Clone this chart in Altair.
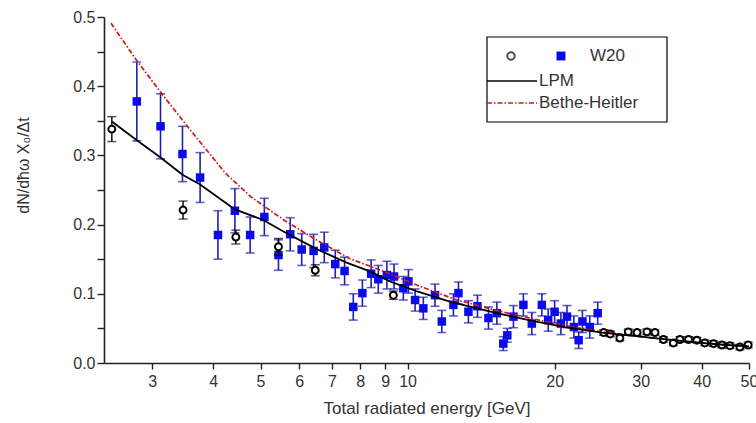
import altair as alt
import pandas as pd

# ---- data ----
circ_x = [2.48, 3.47, 4.45, 5.44, 6.47, 9.35, 25.2, 26.0, 27.2, 28.3, 29.5, 30.9,
          32.1, 33.4, 35.0, 36.1, 37.6, 39.1, 40.6, 42.3, 44.0, 45.7, 47.9, 49.8]
circ_y = [0.338, 0.221, 0.182, 0.168, 0.134, 0.098, 0.044, 0.042, 0.036, 0.045, 0.044, 0.045,
          0.044, 0.034, 0.029, 0.034, 0.034, 0.033, 0.029, 0.028, 0.026, 0.025, 0.023, 0.026]
circ_err = [0.018, 0.013, 0.010, 0.012, 0.008, 0.006, 0.004, 0.004, 0.004, 0.004, 0.004, 0.004,
            0.004, 0.004, 0.004, 0.004, 0.004, 0.004, 0.004, 0.004, 0.004, 0.004, 0.004, 0.004]

sq_x = [2.79, 3.12, 3.46, 3.76, 4.09, 4.43, 4.76, 5.09, 5.44, 5.75, 6.07, 6.42, 6.75, 7.11,
        7.43, 7.74, 8.08, 8.42, 8.71, 9.07, 9.38, 9.80, 10.04, 10.36, 10.77, 11.38, 11.75,
        12.41, 12.71, 13.32, 13.9, 14.64, 15.23, 15.7, 16.0, 16.47, 17.26, 17.96, 18.83,
        19.4, 20.0, 20.6, 21.2, 21.9, 22.4, 22.8, 23.6, 24.5]
sq_y = [0.378, 0.342, 0.302, 0.268, 0.185, 0.220, 0.185, 0.211, 0.156, 0.186, 0.164, 0.162,
        0.167, 0.143, 0.133, 0.081, 0.101, 0.129, 0.121, 0.127, 0.125, 0.108, 0.118, 0.091,
        0.079, 0.098, 0.060, 0.084, 0.101, 0.074, 0.082, 0.065, 0.072, 0.028, 0.040, 0.067,
        0.084, 0.057, 0.084, 0.062, 0.074, 0.057, 0.067, 0.052, 0.033, 0.060, 0.052, 0.072]
sq_err = [0.057, 0.047, 0.040, 0.036, 0.035, 0.032, 0.026, 0.027, 0.022, 0.024, 0.023, 0.024,
          0.022, 0.020, 0.020, 0.019, 0.019, 0.020, 0.020, 0.020, 0.018, 0.017, 0.017, 0.016,
          0.016, 0.016, 0.016, 0.016, 0.016, 0.016, 0.016, 0.016, 0.016, 0.010, 0.010, 0.016,
          0.016, 0.016, 0.016, 0.016, 0.016, 0.016, 0.016, 0.016, 0.012, 0.016, 0.016, 0.016]

lpm_x = [2.48, 2.79, 3.12, 3.46, 3.76, 4.43, 5.05, 5.57, 6.5, 7.5, 8.4, 9.2, 10.5, 12.3,
         15, 18, 21, 25, 30, 35, 40, 45, 50]
lpm_y = [0.349, 0.322, 0.297, 0.272, 0.258, 0.222, 0.207, 0.190, 0.165, 0.145, 0.132, 0.118,
         0.103, 0.088, 0.073, 0.061, 0.052, 0.044, 0.038, 0.033, 0.029, 0.026, 0.024]

bh_x = [2.47, 2.77, 3.1, 3.55, 4.24, 4.78, 5.57, 6.5, 7.6, 8.97, 10.5, 12.5, 15, 18, 21,
        25, 30, 35, 40, 45, 50]
bh_y = [0.491, 0.440, 0.394, 0.341, 0.274, 0.240, 0.207, 0.178, 0.151, 0.132, 0.112, 0.092,
        0.077, 0.064, 0.054, 0.045, 0.038, 0.033, 0.029, 0.026, 0.024]

x_ticks = [3, 4, 5, 6, 7, 8, 9, 10, 20, 30, 40, 50]
y_ticks = [0.0, 0.05, 0.1, 0.15, 0.2, 0.25, 0.3, 0.35, 0.4, 0.45, 0.5]

FONT = "Liberation Sans"

circ = pd.DataFrame({"E": circ_x, "v": circ_y,
                     "lo": [a - b for a, b in zip(circ_y, circ_err)],
                     "hi": [a + b for a, b in zip(circ_y, circ_err)]})
sq = pd.DataFrame({"E": sq_x, "v": sq_y,
                   "lo": [a - b for a, b in zip(sq_y, sq_err)],
                   "hi": [a + b for a, b in zip(sq_y, sq_err)]})
lpm = pd.DataFrame({"E": lpm_x, "v": lpm_y})
bh = pd.DataFrame({"E": bh_x, "v": bh_y})

xs = alt.Scale(type="log", domain=[2.39, 50], nice=False)
ys = alt.Scale(domain=[0, 0.5], nice=False, zero=False)

xax = alt.Axis(values=x_ticks, format="d", title="Total radiated energy [GeV]",
               grid=False, tickSize=6, labelPadding=4, titlePadding=11,
               labelFont=FONT, labelFontSize=16, labelColor="#333",
               titleFont=FONT, titleFontSize=17, titleFontWeight="normal", titleColor="#333",
               domainColor="#222", tickColor="#222", domainWidth=1.6, tickWidth=1.4,
               labelFlush=False)
yax = alt.Axis(values=y_ticks, title="dN/dħω X₀/Δt", grid=False, tickSize=7,
               labelExpr="datum.value % 0.1 < 0.001 || datum.value % 0.1 > 0.099 ? format(datum.value, '.1f') : ''",
               labelPadding=2, labelFont=FONT, labelFontSize=16, labelColor="#333",
               titleFont=FONT, titleFontSize=16, titleFontWeight="normal", titleColor="#333",
               titleX=-81, titleY=148, titleAngle=-90, titleAlign="center", titleBaseline="middle",
               domainColor="#222", tickColor="#222", domainWidth=1.6, tickWidth=1.4)

X = alt.X("E:Q", scale=xs, axis=xax)
Y = alt.Y("v:Q", scale=ys, axis=yax)

lpm_line = alt.Chart(lpm).mark_line(color="black", strokeWidth=1.8).encode(x=X, y=Y)
bh_line = alt.Chart(bh).mark_line(color="#d01818", strokeWidth=1.7,
                                  strokeDash=[5, 2, 1.5, 2]).encode(x=X, y=Y)

sq_bar = alt.Chart(sq).mark_rule(color="#2020b0", strokeWidth=1.6).encode(
    x=X, y=alt.Y("lo:Q", scale=ys, axis=yax), y2="hi:Q")
sq_cap_hi = alt.Chart(sq).mark_tick(color="#2020b0", orient="horizontal", size=9,
                                    thickness=1.6).encode(x=X, y=alt.Y("hi:Q", scale=ys, axis=yax))
sq_cap_lo = alt.Chart(sq).mark_tick(color="#2020b0", orient="horizontal", size=9,
                                    thickness=1.6).encode(x=X, y=alt.Y("lo:Q", scale=ys, axis=yax))
sq_pts = alt.Chart(sq).mark_point(shape="square", filled=True, color="#0a0aee",
                                  size=72, opacity=1).encode(x=X, y=Y)

c_bar = alt.Chart(circ).mark_rule(color="black", strokeWidth=1.4).encode(
    x=X, y=alt.Y("lo:Q", scale=ys, axis=yax), y2="hi:Q")
c_cap_hi = alt.Chart(circ).mark_tick(color="black", orient="horizontal", size=9,
                                     thickness=1.4).encode(x=X, y=alt.Y("hi:Q", scale=ys, axis=yax))
c_cap_lo = alt.Chart(circ).mark_tick(color="black", orient="horizontal", size=9,
                                     thickness=1.4).encode(x=X, y=alt.Y("lo:Q", scale=ys, axis=yax))
c_pts = alt.Chart(circ).mark_point(shape="circle", filled=False, fill="white", fillOpacity=1,
                                   stroke="black", strokeWidth=2, size=48,
                                   opacity=1).encode(x=X, y=Y)

# ---- hand-made legend box (layout only) ----
one = alt.Data(values=[{}])
leg_box = alt.Chart(one).mark_rect(fill="white", stroke="black", strokeWidth=1.2).encode(
    x=alt.value(383), x2=alt.value(563), y=alt.value(20), y2=alt.value(105))
leg_c = alt.Chart(one).mark_point(shape="circle", filled=False, stroke="black",
                                  strokeWidth=2, size=55).encode(
    x=alt.value(407), y=alt.value(39))
leg_s = alt.Chart(one).mark_point(shape="square", filled=True, color="#0a0aee",
                                  size=80, opacity=1).encode(x=alt.value(457), y=alt.value(39))
leg_t1 = alt.Chart(one).mark_text(text="W20", align="left", baseline="middle", font=FONT,
                                  fontSize=17, color="#333").encode(x=alt.value(486), y=alt.value(39))
leg_l1 = alt.Chart(one).mark_rule(color="black", strokeWidth=1.5).encode(
    x=alt.value(383), x2=alt.value(433), y=alt.value(64))
leg_t2 = alt.Chart(one).mark_text(text="LPM", align="left", baseline="middle", font=FONT,
                                  fontSize=17, color="#333").encode(x=alt.value(435), y=alt.value(64))
leg_l2 = alt.Chart(one).mark_rule(color="#d01818", strokeWidth=1.3,
                                  strokeDash=[5, 2, 1.5, 2]).encode(
    x=alt.value(383), x2=alt.value(433), y=alt.value(86))
leg_t3 = alt.Chart(one).mark_text(text="Bethe-Heitler", align="left", baseline="middle",
                                  font=FONT, fontSize=17, color="#333").encode(
    x=alt.value(435), y=alt.value(86))

chart = alt.layer(
    sq_bar, sq_cap_hi, sq_cap_lo, sq_pts,
    c_bar, c_cap_hi, c_cap_lo, c_pts,
    bh_line, lpm_line,
    leg_box, leg_c, leg_s, leg_t1, leg_l1, leg_t2, leg_l2, leg_t3
).properties(
    width=645, height=346,
    autosize=alt.AutoSizeParams(type="none"),
    padding={"left": 104, "top": 17, "right": 7, "bottom": 60},
    background="white"
).configure_view(stroke=None)

chart.save("out.html", embed_options={"renderer": "svg", "actions": False})
